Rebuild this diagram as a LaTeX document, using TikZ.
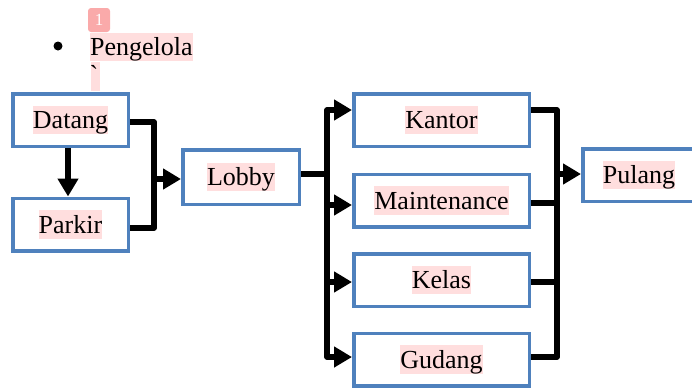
\documentclass[tikz,border=0pt]{standalone}
\usepackage{fontspec}
\setmainfont{Liberation Serif}
\usetikzlibrary{arrows.meta,calc}
\definecolor{boxblue}{RGB}{79,129,189}
\definecolor{hlpink}{RGB}{255,222,222}
\definecolor{badgecol}{RGB}{250,170,170}
\newcommand\hltext[1]{{\setlength{\fboxsep}{0pt}\colorbox{hlpink}{\rule[-5.5pt]{0pt}{28.5pt}#1}}}
\begin{document}
\begin{tikzpicture}[x=1pt,y=-1pt,
  every node/.style={font=\fontsize{26}{29}\selectfont},
  flowbox/.style={draw=boxblue, line width=3.5pt, fill=white, inner sep=0pt, minimum height=52.5pt},
  conn/.style={line width=5.5pt, line join=round},
  arr/.style={conn, -{Triangle[length=18pt,width=20pt]}}]
\useasboundingbox (0,0) rectangle (692,389);
\clip (0,0) rectangle (692,389);
% top text
\fill[black] (58,46) circle (4.5);
\node[anchor=west, inner sep=0pt] (peng) at (90,47) {\hltext{Pengelola}};
\node[fill=badgecol, rounded corners=3pt, minimum width=22pt, minimum height=24pt, inner sep=0pt] (badge) at (99,20) {\fontsize{17}{17}\selectfont\color{white}1};
\fill[hlpink] (91,62) rectangle (100,91);
\node[inner sep=0pt] (tick) at (94,74) {\textasciigrave};
% boxes
\node[flowbox, minimum width=115.5pt] (datang) at (70.5,120) {\hltext{Datang}};
\node[flowbox, minimum width=115.5pt] (parkir) at (70.5,224.5) {\hltext{Parkir}};
\node[flowbox, minimum width=116.5pt, minimum height=54.5pt] (lobby) at (241,177) {\hltext{Lobby}};
\node[flowbox, minimum width=175.5pt] (kantor) at (441.5,120) {\hltext{Kantor}};
\node[flowbox, minimum width=175.5pt] (maint) at (441.5,200.5) {\hltext{Maintenance}};
\node[flowbox, minimum width=175.5pt] (kelas) at (441.5,280) {\hltext{Kelas}};
\node[flowbox, minimum width=175.5pt] (gudang) at (441.5,359.5) {\hltext{Gudang}};
\node[flowbox, minimum width=112.5pt] (pulang) at (639,175) {\hltext{Pulang}};
% left connectors
\coordinate (jl) at (154,179);
\draw[arr] ([xshift=-2.5pt]datang.south) -- ([xshift=-2.5pt]parkir.north);
\draw[conn] ([yshift=-2pt]datang.east) -| (jl);
\draw[conn] ([yshift=-3.5pt]parkir.east) -| (jl);
\draw[arr] (jl) -- ([yshift=-2pt]lobby.west);
% left bus
\coordinate (lb) at (327,174);
\draw[conn] ([yshift=3pt]lobby.east) -- (lb);
\draw[arr] (lb) |- ([yshift=10pt]kantor.west);
\draw[arr] (lb) |- ([yshift=-4.5pt]maint.west);
\draw[arr] (lb) |- ([yshift=-2pt]kelas.west);
\draw[arr] (lb) |- ([yshift=2.5pt]gudang.west);
% right bus
\coordinate (rb) at (557,174);
\draw[conn] ([yshift=10pt]kantor.east) -| (rb);
\draw[conn] ([yshift=-2.5pt]maint.east) -| (rb);
\draw[conn] ([yshift=-2pt]kelas.east) -| (rb);
\draw[conn] ([yshift=2.5pt]gudang.east) -| (rb);
\draw[arr] (rb) -- ([yshift=1pt]pulang.west);
\end{tikzpicture}
\end{document}
